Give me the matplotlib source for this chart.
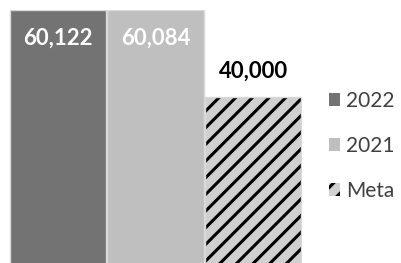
import matplotlib as mpl
mpl.use('Agg')
import matplotlib.pyplot as plt
from matplotlib.patches import Patch

series = ['2022', '2021', 'Meta']
values = [60122, 60084, 40000]
labels = ['60,122', '60,084', '40,000']
colors = ['#737373', '#bfbfbf', '#d0d0d0']

plt.rcParams['font.family'] = ['Lato', 'DejaVu Sans']
plt.rcParams['hatch.linewidth'] = 2.2

fig = plt.figure(figsize=(4.01, 2.63), dpi=100)
ax = fig.add_axes([9/401, -7/263, 293/401, 260/263])

for i in range(3):
    if i == 2:
        # hatch takes the edge colour, so draw fill+hatch and outline apart
        ax.bar(i, values[i], width=0.985, color=colors[i], edgecolor='black',
               linewidth=0, hatch='//')
        ax.bar(i, values[i], width=0.985, fill=False, edgecolor='#d9d9d9', linewidth=1)
    else:
        ax.bar(i, values[i], width=0.985, color=colors[i], edgecolor='#d9d9d9',
               linewidth=1)

ax.set_xlim(-0.5, 2.5)
ax.set_ylim(0, 60122)
ax.axis('off')

for i in range(2):
    ax.text(i, values[i] - 6500, labels[i], ha='center', va='center',
            color='white', fontsize=16, fontweight='bold')
ax.text(2, values[2] + 6000, labels[2], ha='center', va='center',
        color='black', fontsize=16, fontweight='bold')

handles = [Patch(facecolor=colors[0], edgecolor='none'),
           Patch(facecolor=colors[1], edgecolor='none'),
           Patch(facecolor=colors[2], edgecolor='black', linewidth=0, hatch='//')]
leg = fig.legend(handles=handles, labels=series, loc='upper left',
                 bbox_to_anchor=(329/401, 1 - 91/263), frameon=False,
                 fontsize=15, handlelength=0.55, handleheight=0.55,
                 handletextpad=0.25, labelspacing=1.2, labelcolor='#404040',
                 borderpad=0, borderaxespad=0)
plt.savefig('out.png', dpi=100)
